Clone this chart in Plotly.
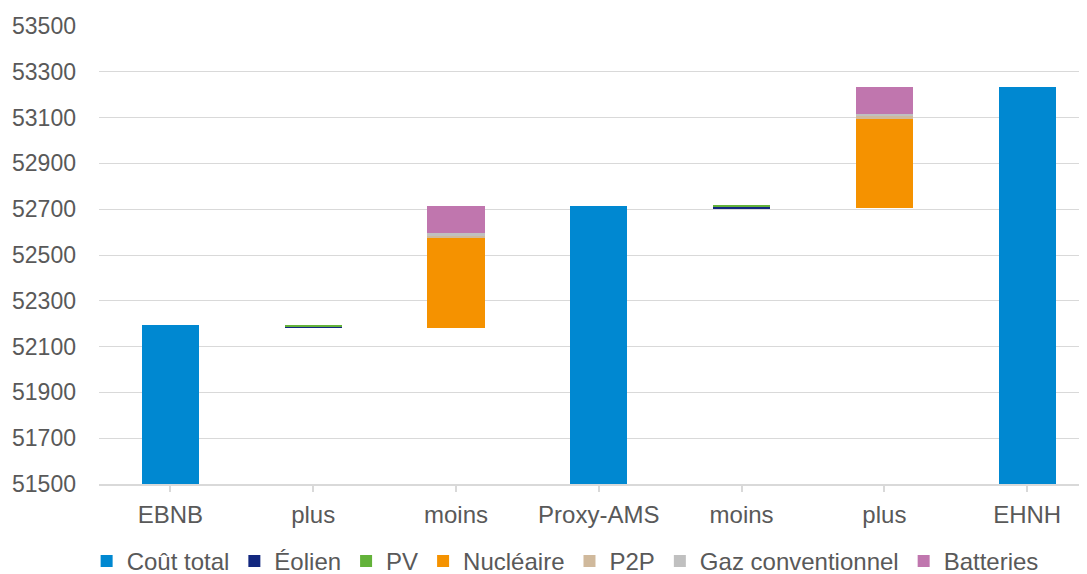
import plotly.graph_objects as go

categories = ["EBNB", "plus", "moins", "Proxy-AMS", "moins", "plus", "EHNH"]
base_vals = [0, 52183, 52183, 0, 52704, 52704, 0]
cout_total = [52193, 0, 0, 52715, 0, 0, 53233]
eolien = [0, 6, 0, 0, 7, 0, 0]
pv = [0, 4, 0, 0, 4, 0, 0]
nucleaire = [0, 0, 393, 0, 0, 393, 0]
p2p = [0, 0, 8, 0, 0, 8, 0]
gaz = [0, 0, 10, 0, 0, 11, 0]
batteries = [0, 0, 121, 0, 0, 117, 0]
y_ticks = [51500, 51700, 51900, 52100, 52300, 52500, 52700, 52900, 53100, 53300, 53500]

x = list(range(len(categories)))
series = [
    ("Coût total", cout_total, "#0088D1"),
    ("Éolien", eolien, "#13287F"),
    ("PV", pv, "#63B23A"),
    ("Nucléaire", nucleaire, "#F59200"),
    ("P2P", p2p, "#D0B99C"),
    ("Gaz conventionnel", gaz, "#C0C0C0"),
    ("Batteries", batteries, "#C076AE"),
]

fig = go.Figure()
fig.add_trace(go.Bar(x=x, y=base_vals, marker=dict(color="rgba(0,0,0,0)", line=dict(width=0)),
                     showlegend=False, hoverinfo="skip", width=0.4))
for name, vals, col in series:
    fig.add_trace(go.Bar(x=x, y=vals, name=name, width=0.4,
                         marker=dict(color=col, line=dict(width=0))))

font_family = "Liberation Sans, Arial, sans-serif"
fig.update_layout(
    barmode="stack",
    width=1087, height=574,
    margin=dict(l=91, r=0, t=18, b=98, autoexpand=False),
    paper_bgcolor="white", plot_bgcolor="white",
    font=dict(family=font_family, color="#595959", size=23),
    legend=dict(orientation="h", x=0.468, xanchor="center",
                yref="container", y=0.036, yanchor="middle",
                font=dict(size=24, color="#595959"), itemwidth=30, tracegroupgap=0,
                traceorder="normal"),
    xaxis=dict(tickmode="array", tickvals=x, ticktext=categories,
               range=[-0.5, 6.475], showgrid=False, showline=True, linecolor="#D9D9D9",
               linewidth=2, ticks="outside", ticklen=6, tickcolor="#D9D9D9", tickwidth=2,
               tickfont=dict(size=24, color="#595959"), ticklabelstandoff=2),
    yaxis=dict(range=[51500, 53500], tickmode="array", tickvals=y_ticks,
               ticktext=[str(v) for v in y_ticks],
               showgrid=True, gridcolor="#D9D9D9", gridwidth=1, zeroline=False,
               tickfont=dict(size=23, color="#595959"), ticklabelstandoff=22),
)

fig.write_html("out.html")
